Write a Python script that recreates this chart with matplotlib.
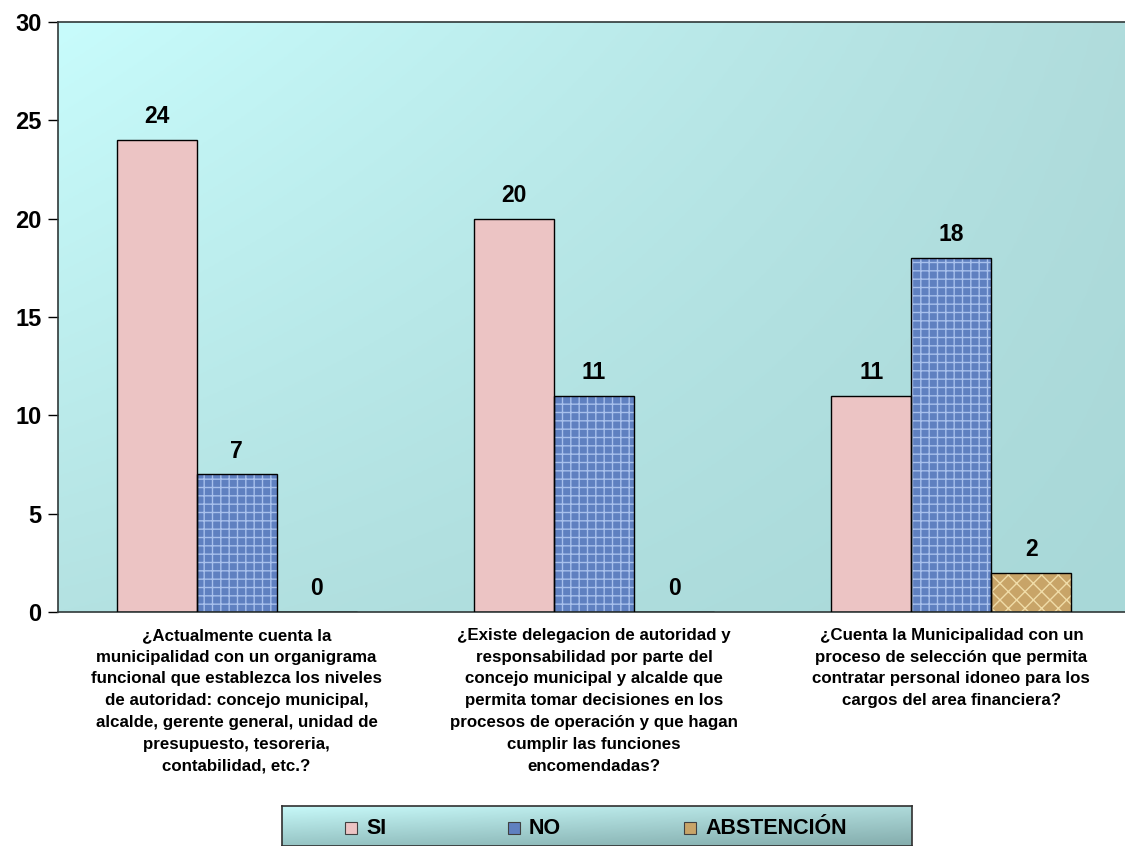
import matplotlib.pyplot as plt
from matplotlib.patches import Rectangle
import numpy as np

plt.rcParams['font.family'] = ['Liberation Sans', 'DejaVu Sans']
plt.rcParams['font.weight'] = 'bold'
plt.rcParams['hatch.linewidth'] = 1.0

categories = [
    '¿Actualmente cuenta la\nmunicipalidad con un organigrama\nfuncional que establezca los niveles\n'
    'de autoridad: concejo municipal,\nalcalde, gerente general, unidad de\npresupuesto, tesoreria,\ncontabilidad, etc.?',
    '¿Existe delegacion de autoridad y\nresponsabilidad por parte del\nconcejo municipal y alcalde que\n'
    'permita tomar decisiones en los\nprocesos de operación y que hagan\ncumplir las funciones\nencomendadas?',
    '¿Cuenta la Municipalidad con un\nproceso de selección que permita\ncontratar personal idoneo para los\n'
    'cargos del area financiera?',
]
series = ['SI', 'NO', 'ABSTENCIÓN']
si = [24, 20, 11]
no = [7, 11, 18]
abst = [0, 0, 2]

faces = ['#ecc4c4', '#5f80c0', '#c8a468']
hatches = [None, '++', 'xx']
hatch_cols = ['#ecc4c4', '#a8c0ec', '#f0dca8']

W, H = 1125, 846
fig = plt.figure(figsize=(W / 100, H / 100), dpi=100)
ax = fig.add_axes([58 / W, 1 - 612 / H, (1130 - 58) / W, (612 - 22) / H])

# gradient background
g = np.linspace(0, 1, 200)
X, Y = np.meshgrid(g, g)
tl = np.array([200, 252, 252]) / 255
tr = np.array([176, 220, 220]) / 255
bl = np.array([180, 226, 226]) / 255
br = np.array([168, 216, 216]) / 255
grad = (tl * ((1 - X) * (1 - Y))[..., None] + tr * (X * (1 - Y))[..., None]
        + bl * ((1 - X) * Y)[..., None] + br * (X * Y)[..., None])
ax.imshow(grad, extent=[-0.5, 2.5, 0, 30], origin='upper', aspect='auto', zorder=0)

x = np.arange(len(categories))
w = 0.224
for i, vals in enumerate([si, no, abst]):
    pos = x + (i - 1) * w
    ax.bar(pos, vals, w, color=faces[i], hatch=hatches[i], edgecolor=hatch_cols[i],
           linewidth=0, zorder=2)
    ax.bar(pos, vals, w, fill=False, edgecolor='black', linewidth=1.0, zorder=3)
    for p, v in zip(pos, vals):
        ax.text(p, v + 0.6, str(v), ha='center', va='bottom', fontsize=16.5, fontweight='bold')

ax.set_xlim(-0.5, 2.5)
ax.set_ylim(0, 30)
ax.set_yticks(range(0, 31, 5))
ax.tick_params(axis='y', labelsize=17, length=7, width=1, pad=5)
ax.tick_params(axis='x', length=0, labelbottom=False)
for s in ['left', 'top', 'bottom']:
    ax.spines[s].set_color('#303838')
    ax.spines[s].set_linewidth(1.2)
ax.spines['right'].set_visible(False)

for xi, lab in zip(x, categories):
    ax.text(xi, -0.8, lab, ha='center', va='top', fontsize=12.2, fontweight='bold',
            linespacing=1.57)

# legend box with gradient
lax = fig.add_axes([282 / W, 0, 630 / W, 40 / H])
lg = np.linspace(0, 1, 100)
LX, LY = np.meshgrid(lg, lg)
ltop = np.array([200, 250, 250]) / 255
lbot = np.array([150, 196, 196]) / 255
lgrad = ltop * (1 - LY)[..., None] + lbot * LY[..., None]
lgrad = lgrad * (1 - 0.12 * LX)[..., None]
lax.imshow(lgrad, extent=[0, 1, 0, 1], aspect='auto')
lax.set_xticks([])
lax.set_yticks([])
for s in lax.spines.values():
    s.set_color('#303030')
    s.set_linewidth(1.2)

marker_x = [345, 508, 684]
yc = 1 - 828 / H
for mx, lab, fc in zip(marker_x, series, faces):
    fig.patches.append(Rectangle((mx / W, yc - 6 / H), 12 / W, 12 / H, transform=fig.transFigure,
                                 facecolor=fc, edgecolor='#404040', linewidth=0.8))
    fig.text((mx + 21) / W, yc, lab, ha='left', va='center', fontsize=15.5, fontweight='bold')

fig.savefig('out.png', dpi=100)
